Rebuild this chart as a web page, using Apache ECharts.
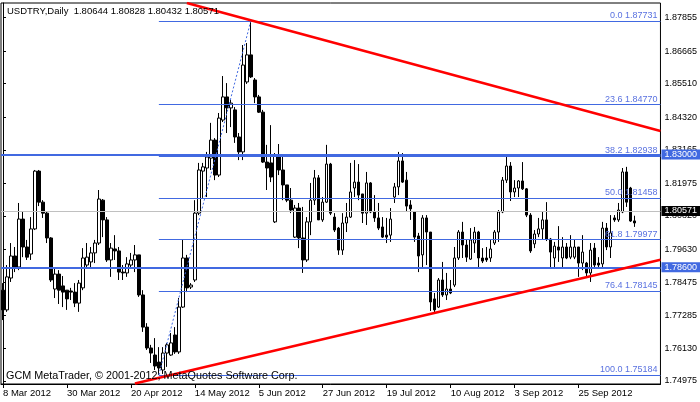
<!DOCTYPE html>
<html><head><meta charset="utf-8">
<script src="https://cdn.jsdelivr.net/npm/echarts@6/dist/echarts.min.js"></script>
<style>html,body{margin:0;padding:0;background:#fff}#c{width:700px;height:402px}</style>
</head><body><div id="c"></div>
<script>
// ---- data (USDTRY daily) ----
const openP = [
1.7819,1.7749,1.7862,1.7940,1.7901,1.8071,1.7972,1.7947,1.8036,1.8241,
1.8131,1.8092,1.8004,1.7823,1.7876,1.7834,1.7819,1.7816,1.7812,1.7773,
1.7827,1.7908,1.7919,1.7951,1.7986,1.8138,1.8068,1.7926,1.7965,1.7958,
1.7883,1.7880,1.7908,1.7926,1.7944,1.7802,1.7688,1.7614,1.7589,1.7564,
1.7536,1.7596,1.7589,1.7660,1.7600,1.7759,1.7933,1.7830,1.7855,1.8092,
1.8241,1.8252,1.8287,1.8351,1.8227,1.8422,1.8504,1.8465,1.8458,1.8362,
1.8309,1.8557,1.8653,1.8564,1.8504,1.8450,1.8273,1.8270,1.8061,1.8291,
1.8245,1.8192,1.8138,1.8007,1.8110,1.8004,1.7926,1.8061,1.8138,1.8217,
1.8068,1.8131,1.8266,1.8078,1.8039,1.7961,1.8057,1.8078,1.8181,1.8202,
1.8160,1.8092,1.8199,1.8096,1.8075,1.8043,1.8014,1.8014,1.8149,1.8185,
1.8277,1.8209,1.8121,1.8096,1.8011,1.7944,1.8075,1.8025,1.7788,1.7759,
1.7855,1.7802,1.7823,1.7837,1.7933,1.8025,1.7979,1.7929,1.7986,1.8025,
1.7933,1.7933,1.7933,1.7986,1.8025,1.8096,1.8209,1.8259,1.8167,1.8181,
1.8206,1.8178,1.8085,1.7983,1.8018,1.8036,1.8068,1.8000,1.7933,1.7972,
1.7933,1.7972,1.7936,1.7936,1.7972,1.7915,1.7915,1.7880,1.7968,1.7915,
1.7912,1.8039,1.7972,1.8075,1.8068,1.8096,1.8238,1.8181,1.80644];
const highP = [
1.7844,1.7908,1.7986,1.7972,1.8128,1.8096,1.7997,1.8078,1.8245,1.8245,
1.8138,1.8096,1.8007,1.7901,1.7890,1.7869,1.7819,1.7827,1.7844,1.7855,
1.7968,1.7986,1.7972,1.7997,1.8174,1.8142,1.8078,1.7986,1.8014,1.7972,
1.7908,1.7936,1.7951,1.7979,1.7944,1.7819,1.7702,1.7625,1.7649,1.7617,
1.7617,1.7632,1.7667,1.7688,1.7791,1.7997,1.7944,1.7844,1.8138,1.8270,
1.8270,1.8309,1.8412,1.8358,1.8447,1.8578,1.8553,1.8493,1.8468,1.8376,
1.8688,1.8695,1.87731,1.8571,1.8511,1.8458,1.8334,1.8404,1.8305,1.8337,
1.8291,1.8192,1.8181,1.8121,1.8128,1.8114,1.8078,1.8199,1.8245,1.8227,
1.8149,1.8334,1.8270,1.8092,1.8043,1.8092,1.8128,1.8270,1.8280,1.8266,
1.8160,1.8238,1.8202,1.8156,1.8128,1.8078,1.8075,1.8110,1.8199,1.8309,
1.8305,1.8238,1.8138,1.8096,1.8022,1.8085,1.8085,1.8025,1.7809,1.7862,
1.7919,1.7880,1.7855,1.7972,1.8032,1.8061,1.7997,1.8039,1.8043,1.8029,
1.7968,1.7972,1.7997,1.8032,1.8103,1.8220,1.8298,1.8273,1.8209,1.8209,
1.8273,1.8181,1.8092,1.8032,1.8075,1.8096,1.8131,1.8004,1.7990,1.8046,
1.8007,1.7986,1.8014,1.7997,1.7972,1.8014,1.7919,1.7986,1.7986,1.7936,
1.8061,1.8057,1.8085,1.8085,1.8128,1.8252,1.8256,1.8185,1.80828];
const lowP = [
1.7713,1.7742,1.7848,1.7883,1.7890,1.7936,1.7926,1.7926,1.8032,1.8117,
1.8075,1.7986,1.7848,1.7791,1.7770,1.7759,1.7749,1.7784,1.7759,1.7742,
1.7819,1.7901,1.7901,1.7915,1.7979,1.8007,1.7919,1.7866,1.7926,1.7855,
1.7855,1.7866,1.7897,1.7883,1.7795,1.7671,1.7607,1.7561,1.7536,1.75184,
1.7522,1.7547,1.7586,1.7593,1.7593,1.7756,1.7812,1.7823,1.7848,1.8085,
1.8146,1.8149,1.8245,1.8209,1.8220,1.8415,1.8376,1.8397,1.8341,1.8280,
1.8280,1.8550,1.8571,1.8482,1.8447,1.8270,1.8174,1.8202,1.8057,1.8227,
1.8138,1.8131,1.8092,1.8004,1.7968,1.7880,1.7919,1.8014,1.8121,1.8068,
1.8061,1.8128,1.8085,1.8025,1.7944,1.7944,1.8025,1.8075,1.8149,1.8138,
1.8057,1.8050,1.8092,1.8061,1.8032,1.8004,1.7986,1.7990,1.8128,1.8156,
1.8199,1.8096,1.8068,1.7990,1.7883,1.7901,1.7908,1.7745,1.7738,1.7756,
1.7795,1.7784,1.7805,1.7830,1.7926,1.7933,1.7919,1.7926,1.7951,1.7897,
1.7915,1.7919,1.7919,1.7979,1.7990,1.8092,1.8199,1.8135,1.8149,1.8149,
1.8174,1.8078,1.7951,1.7968,1.8007,1.7997,1.7993,1.7901,1.7901,1.7919,
1.7901,1.7929,1.7929,1.7929,1.7866,1.7890,1.7866,1.7848,1.7901,1.7901,
1.7901,1.7961,1.7933,1.8061,1.8061,1.8092,1.8114,1.8061,1.80432];
const closeP = [
1.7749,1.7866,1.7940,1.7901,1.8071,1.7972,1.7936,1.8036,1.8241,1.8131,
1.8092,1.8004,1.7855,1.7876,1.7819,1.7812,1.7788,1.7812,1.7773,1.7844,
1.7933,1.7936,1.7951,1.7986,1.8142,1.8068,1.7926,1.7968,1.7958,1.7883,
1.7880,1.7912,1.7926,1.7944,1.7802,1.7688,1.7614,1.7596,1.7550,1.7543,
1.7596,1.7625,1.7632,1.7600,1.7759,1.7933,1.7827,1.7837,1.8092,1.8245,
1.8256,1.8291,1.8351,1.8227,1.8429,1.8504,1.8465,1.8482,1.8362,1.8309,
1.8617,1.8653,1.8575,1.8504,1.8450,1.8273,1.8252,1.8220,1.8298,1.8245,
1.8192,1.8138,1.8103,1.8110,1.8004,1.7926,1.8061,1.8138,1.8217,1.8068,
1.8131,1.8266,1.8092,1.8032,1.7961,1.8057,1.8078,1.8167,1.8202,1.8156,
1.8092,1.8199,1.8096,1.8075,1.8039,1.8007,1.8007,1.8071,1.8185,1.8277,
1.8202,1.8117,1.8107,1.8007,1.7940,1.8075,1.8025,1.7777,1.7749,1.7855,
1.7802,1.7823,1.7809,1.7933,1.8025,1.7979,1.7936,1.7997,1.8025,1.7933,
1.7922,1.7926,1.7965,1.8025,1.8096,1.8209,1.8259,1.8167,1.8181,1.8206,
1.8178,1.8085,1.7958,1.8018,1.8036,1.8068,1.8000,1.7954,1.7975,1.7961,
1.7972,1.7933,1.7972,1.7972,1.7915,1.7954,1.7880,1.7961,1.7908,1.7908,
1.8039,1.7972,1.8022,1.8068,1.8103,1.8238,1.8131,1.8064,1.80571];

const dateTicks = ['8 Mar 2012','30 Mar 2012','20 Apr 2012','14 May 2012','5 Jun 2012',
                   '27 Jun 2012','19 Jul 2012','10 Aug 2012','3 Sep 2012','25 Sep 2012'];
const barsPerDateTick = 16;
const slotCount = 165;               // bars + empty chart shift on the right
const yTicks = [1.87855,1.86665,1.85510,1.84320,1.83165,1.81975,1.80820,1.79630,1.78475,1.77285,1.76130,1.74975];
const yMin = 1.74863, yMax = 1.88369;

const fibLevels = [0.0,23.6,38.2,50.0,61.8,76.4,100.0];
const fibPrices = [1.87731,1.84770,1.82938,1.81458,1.79977,1.78145,1.75184];
const fibLowBar = 39, fibHighBar = 62;
const levelLines = [1.83000, 1.78600];
const bidPrice = 1.80571;
const upperTrend = [[46, 1.8837], [164.5, 1.8383]];
const lowerTrend = [[33, 1.7488], [164.5, 1.7927]];

const titleText = 'USDTRY,Daily  1.80644 1.80828 1.80432 1.80571';
const copyText = 'GCM MetaTrader, \u00A9 2001-2012, MetaQuotes Software Corp.';

// ---- chart ----
const FONT = 'Liberation Sans';
const FS = 9;
const BLUE = '#4169E1';
const categories = Array.from({length: slotCount}, (_, i) =>
  (i % barsPerDateTick === 0 && i / barsPerDateTick < dateTicks.length) ? dateTicks[i / barsPerDateTick] : ('b' + i));
const showDate = (i) => i % barsPerDateTick === 0 && i / barsPerDateTick < dateTicks.length;
const candles = openP.map((o, i) => [o, closeP[i], lowP[i], highP[i]]);

const chart = echarts.init(document.getElementById('c'), null, {renderer: 'canvas'});
const tagLabel = (txt, bg) => ({show: true, position: 'end', distance: 1, formatter: txt,
  color: '#fff', backgroundColor: bg, padding: [1, 3, 0, 3], fontSize: FS, fontFamily: FONT});

chart.setOption({
  animation: false,
  backgroundColor: '#fff',
  grid: {left: 1, right: 39, top: 3, bottom: 18, show: true, borderColor: '#000', borderWidth: 1, backgroundColor: 'transparent'},
  xAxis: [{
    type: 'category', data: categories, boundaryGap: true,
    axisLine: {show: true, lineStyle: {color: '#000', width: 1}},
    axisTick: {show: true, interval: (i) => showDate(i), alignWithLabel: true, length: 4, lineStyle: {color: '#000'}},
    axisLabel: {interval: (i) => showDate(i), align: 'left', margin: 4, color: '#000', fontSize: 9.5, fontFamily: FONT},
    splitLine: {show: false}
  }, {
    type: 'value', min: -0.5, max: slotCount - 0.5, show: false
  }],
  yAxis: {
    type: 'value', position: 'right', min: yMin, max: yMax,
    splitLine: {show: false},
    axisLine: {show: true, lineStyle: {color: '#000'}},
    axisTick: {show: true, customValues: yTicks, length: 3, lineStyle: {color: '#000'}},
    axisLabel: {customValues: yTicks, formatter: (v) => v.toFixed(5), margin: 4, color: '#000', fontSize: FS, fontFamily: FONT}
  },
  graphic: [
    {type: 'text', left: 7, top: 6, z: 100, style: {text: titleText, fill: '#000', font: '9.5px "' + FONT + '"'}},
    {type: 'text', left: 6, top: 371, z: 100, style: {text: copyText, fill: '#000', font: '10.8px "' + FONT + '"'}}
  ],
  series: [
    { // bid line (behind candles)
      type: 'line', xAxisIndex: 1, data: [], z: 1, silent: true,
      markLine: {silent: true, symbol: 'none', animation: false,
        data: [{yAxis: bidPrice, lineStyle: {color: '#c0c0c0', width: 1, type: 'solid'}, label: tagLabel(bidPrice.toFixed(5), '#000')}]}
    },
    {
      type: 'candlestick', data: candles, z: 2, barWidth: 3, silent: true,
      itemStyle: {color: '#fff', color0: '#000', borderColor: '#000', borderColor0: '#000', borderWidth: 1}
    },
    { // horizontal levels
      type: 'line', xAxisIndex: 1, data: [], z: 3, silent: true,
      markLine: {silent: true, symbol: 'none', animation: false,
        data: levelLines.map(v => ({yAxis: v, lineStyle: {color: BLUE, width: 2, type: 'solid'}, label: tagLabel(v.toFixed(5), BLUE)}))}
    },
    { // fibonacci: diagonal + levels
      type: 'line', xAxisIndex: 1, z: 4, silent: true, symbol: 'none',
      data: [[fibLowBar, fibPrices[fibPrices.length - 1]], [fibHighBar, fibPrices[0]]],
      lineStyle: {color: BLUE, width: 1, type: [2, 2]},
      markLine: {silent: true, symbol: 'none', animation: false,
        lineStyle: {color: BLUE, width: 1, type: 'solid'},
        label: {show: true, position: 'insideEndTop', distance: [3, 1], color: '#5a72e0', fontSize: FS, fontFamily: FONT},
        data: fibPrices.map((p, k) => [
          {coord: [fibLowBar, p]},
          {coord: [slotCount - 0.5, p], label: {formatter: fibLevels[k].toFixed(1) + ' ' + p.toFixed(5)}}
        ])}
    },
    {
      type: 'line', xAxisIndex: 1, z: 5, silent: true, symbol: 'none', data: upperTrend,
      lineStyle: {color: '#ff0000', width: 2.5}
    },
    {
      type: 'line', xAxisIndex: 1, z: 5, silent: true, symbol: 'none', data: lowerTrend,
      lineStyle: {color: '#ff0000', width: 2.5}
    }
  ]
});
</script></body></html>
